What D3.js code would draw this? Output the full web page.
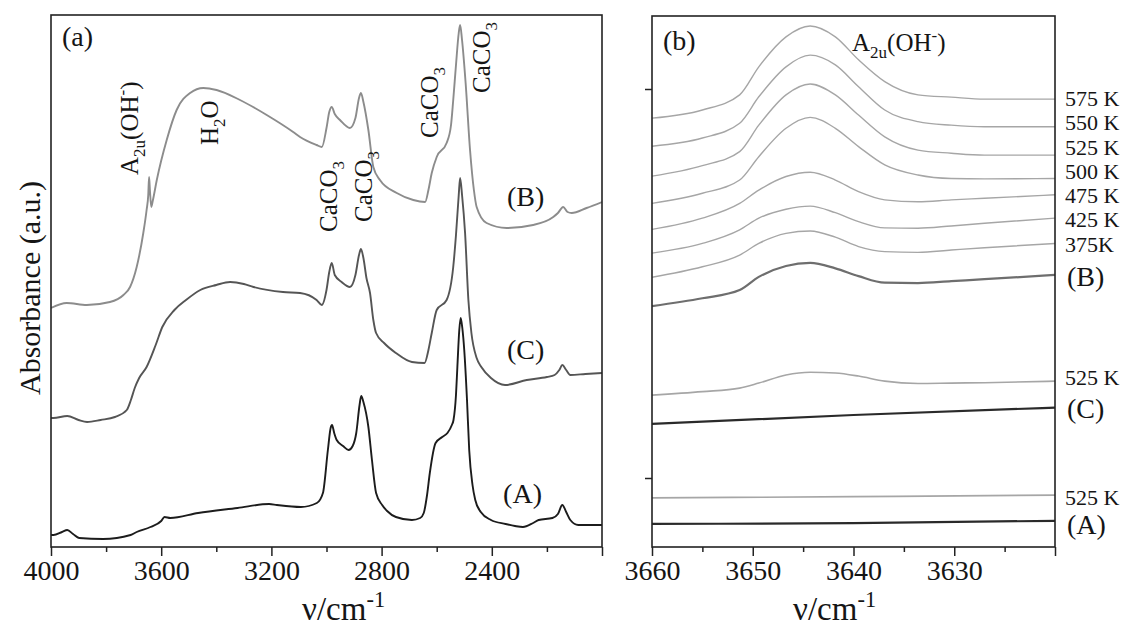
<!DOCTYPE html>
<html>
<head>
<meta charset="utf-8">
<script src="https://cdn.jsdelivr.net/npm/d3@7"></script>
<style>
  body { margin: 0; background: #fff; }
  text { font-family: "Liberation Serif", "Times New Roman", serif; fill: #151515; }
</style>
</head>
<body>
<script>
// ---- panel (a): full spectra, wavenumber (cm-1) vs absorbance (a.u.)
var waveA = [4000, 3991, 3960, 3941, 3920, 3898, 3811, 3711, 3689, 3639, 3600, 3588, 3567, 3466, 3323, 3208, 3180, 3093, 3035, 3013,
  2995, 2985, 2980, 2972, 2963, 2940, 2920, 2905, 2892, 2880, 2874, 2866, 2848, 2835, 2820, 2798, 2780, 2748, 2690, 2660, 2647,
  2635, 2625, 2604, 2580, 2561, 2545, 2539, 2530, 2525, 2518, 2513, 2507, 2500, 2490, 2482, 2470, 2460, 2440, 2403, 2350, 2316,
  2287, 2250, 2230, 2180, 2160, 2144, 2130, 2115, 2086, 2000];
var specA = [0.12, 0.12, 0.15, 0.17, 0.13, 0.09, 0.08, 0.12, 0.15, 0.20, 0.26, 0.30, 0.29, 0.34, 0.39, 0.43, 0.42, 0.40, 0.44, 0.54,
  0.97, 1.19, 1.22, 1.14, 1.07, 1.01, 0.97, 1.01, 1.14, 1.42, 1.51, 1.45, 1.20, 0.87, 0.54, 0.42, 0.36, 0.30, 0.27, 0.29, 0.34,
  0.52, 0.74, 1.04, 1.10, 1.14, 1.22, 1.27, 1.52, 1.80, 2.17, 2.29, 2.19, 1.97, 1.47, 0.97, 0.62, 0.47, 0.35, 0.27, 0.23, 0.21,
  0.20, 0.24, 0.27, 0.29, 0.33, 0.42, 0.35, 0.27, 0.22, 0.22];

var waveC = [4000, 3991, 3941, 3900, 3869, 3820, 3768, 3725, 3710, 3696, 3680, 3653, 3620, 3596, 3552, 3510, 3458, 3400, 3350, 3300,
  3265, 3158, 3096, 3036, 3017, 3000, 2990, 2981, 2970, 2945, 2915, 2895, 2882, 2875, 2866, 2855, 2842, 2830, 2820, 2791, 2748,
  2690, 2644, 2630, 2618, 2600, 2564, 2540, 2530, 2520, 2515, 2508, 2497, 2485, 2474, 2455, 2438, 2403, 2352, 2273, 2200, 2172,
  2155, 2144, 2130, 2115, 2060, 2000];
var specC = [1.29, 1.29, 1.31, 1.27, 1.25, 1.27, 1.30, 1.37, 1.47, 1.59, 1.69, 1.80, 2.02, 2.20, 2.37, 2.47, 2.57, 2.62, 2.65, 2.63,
  2.60, 2.55, 2.54, 2.47, 2.42, 2.57, 2.75, 2.84, 2.72, 2.65, 2.60, 2.72, 2.92, 2.98, 2.89, 2.69, 2.54, 2.27, 2.14, 2.04, 1.94,
  1.85, 1.84, 1.97, 2.14, 2.37, 2.47, 2.80, 3.12, 3.52, 3.69, 3.52, 3.14, 2.47, 2.14, 1.89, 1.80, 1.69, 1.62, 1.67, 1.70, 1.72,
  1.77, 1.82, 1.77, 1.72, 1.73, 1.74];

var waveB = [4000, 3943, 3870, 3786, 3737, 3713, 3689, 3665, 3653, 3647, 3644, 3641, 3636, 3630, 3616, 3580, 3544, 3495, 3447, 3399,
  3314, 3217, 3121, 3096, 3036, 3017, 3000, 2990, 2981, 2970, 2951, 2915, 2895, 2882, 2875, 2866, 2848, 2830, 2806, 2745, 2685,
  2642, 2630, 2618, 2600, 2564, 2548, 2540, 2530, 2520, 2515, 2508, 2495, 2479, 2465, 2455, 2419, 2346, 2250, 2177, 2160, 2141,
  2125, 2110, 2056, 2000];
var specB = [2.39, 2.44, 2.42, 2.45, 2.52, 2.60, 2.80, 3.14, 3.37, 3.52, 3.70, 3.57, 3.40, 3.47, 3.67, 4.07, 4.37, 4.54, 4.59, 4.57,
  4.47, 4.32, 4.15, 4.10, 4.02, 4.00, 4.19, 4.35, 4.40, 4.33, 4.27, 4.19, 4.29, 4.49, 4.54, 4.45, 4.17, 3.80, 3.67, 3.54, 3.47,
  3.45, 3.57, 3.74, 3.90, 4.04, 4.22, 4.47, 4.82, 5.14, 5.22, 5.07, 4.64, 3.97, 3.57, 3.40, 3.24, 3.19, 3.22, 3.30, 3.34, 3.40,
  3.35, 3.34, 3.39, 3.45];

var majorTicksA = [4000, 3600, 3200, 2800, 2400, 2000];
var minorTicksA = [3800, 3400, 3000, 2600, 2200];

// ---- panel (b): A2u(OH-) region, stacked spectra
var waveHT = [3660, 3655, 3651.3, 3649.4, 3646.7, 3644.3, 3641.8, 3639.5, 3636.9, 3633.6, 3630.3, 3627.0, 3620];
var t575 = [92.5, 94.6, 98.5, 105.7, 113.4, 116.2, 113.4, 107.5, 101.9, 98.5, 97.9, 97.4, 97.4];
var t550 = [85.3, 87.4, 91.2, 98.0, 105.7, 108.7, 106.2, 100.6, 94.6, 91.6, 90.7, 90.3, 90.3];
var t525 = [77.6, 80.3, 83.9, 90.7, 98.5, 101.3, 98.5, 93.3, 87.7, 84.3, 83.5, 83.0, 83.0];
var t500 = [70.6, 73.2, 76.6, 82.6, 89.9, 92.7, 89.9, 85.2, 80.5, 77.9, 77.0, 76.9, 77.0];
var t475 = [63.9, 66.8, 70.6, 74.0, 77.5, 78.6, 76.6, 73.6, 71.5, 71.0, 71.5, 71.9, 72.8];
var t425 = [57.8, 60.3, 63.8, 66.8, 69.1, 69.9, 68.2, 65.9, 64.3, 64.2, 64.8, 65.5, 66.8];
var t375 = [51.6, 54.3, 57.3, 60.3, 62.9, 63.5, 61.9, 59.5, 58.2, 58.0, 58.6, 59.2, 60.3];
var roomB = [44.2, 46.2, 48.3, 51.7, 54.5, 55.3, 53.9, 51.9, 50.2, 50.1, 50.6, 51.1, 52.2];
var c525 = [21.3, 22.2, 23.1, 24.4, 26.5, 27.2, 27.0, 26.2, 24.9, 24.3, 24.4, 24.5, 24.9];
var waveFlat = [3660, 3640, 3620];
var roomC = [13.9, 16.2, 18.1];
var a525 = [-5.1, -4.8, -4.4];
var roomA = [-11.8, -11.6, -11.0];

var majorTicksB = [3660, 3650, 3640, 3630, 3620];
var minorTicksB = [3655, 3645, 3635, 3625];
var yTicksB = [0, 100];

var svg = d3.select("body").append("svg")
  .attr("width", 1131)
  .attr("height", 628);

var serif = '"Liberation Serif", "Times New Roman", serif';

// text with sub / superscript pieces
function rich(t, parts, size) {
  var shift = 0;
  parts.forEach(function(p) {
    var target = p[1] === "sub" ? size * 0.28 : p[1] === "sup" ? -size * 0.4 : 0;
    t.append("tspan")
      .attr("dy", target - shift)
      .attr("font-size", p[1] === "n" ? size : size * 0.68)
      .text(p[0]);
    shift = target;
  });
  return t;
}

function frameAndAxis(x, major, minor, clipId) {
  var x0 = x.range()[0], x1 = x.range()[1];

  svg.append("clipPath").attr("id", clipId)
    .append("rect").attr("x", x0).attr("y", 15).attr("width", x1 - x0).attr("height", 547 - 15);

  var minorAxis = svg.append("g")
    .attr("transform", "translate(0,547)")
    .attr("color", "#222")
    .call(d3.axisBottom(x).tickValues(minor).tickSize(5).tickFormat(""));
  minorAxis.select(".domain").remove();
  minorAxis.selectAll("line").attr("stroke-width", 1.5);

  var last = major[major.length - 1];
  var majorAxis = svg.append("g")
    .attr("transform", "translate(0,547)")
    .attr("color", "#222")
    .call(d3.axisBottom(x).tickValues(major).tickSize(9).tickPadding(4)
      .tickFormat(function(d) { return d === last ? "" : d; }));
  majorAxis.select(".domain").remove();
  majorAxis.selectAll("line").attr("stroke-width", 1.5);
  majorAxis.selectAll("text")
    .attr("font-family", serif)
    .attr("font-size", 28)
    .style("fill", "#151515");
}

// ================= panel (a)
var xA = d3.scaleLinear().domain([4000, 2000]).range([51, 602]);
var yA = d3.scaleLinear().domain([0, 1]).range([547, 447]);

frameAndAxis(xA, majorTicksA, minorTicksA, "clipA");

var lineA = function(wave) {
  return d3.line()
    .x(function(d, i) { return xA(wave[i]); })
    .y(function(d) { return yA(d); })
    .curve(d3.curveMonotoneX);
};

var gA = svg.append("g").attr("clip-path", "url(#clipA)");
[[waveB, specB, "#8c8c8c"], [waveC, specC, "#555"], [waveA, specA, "#1c1c1c"]].forEach(function(s) {
  gA.append("path")
    .datum(s[1])
    .attr("d", lineA(s[0]))
    .attr("fill", "none")
    .attr("stroke", s[2])
    .attr("stroke-width", 1.9)
    .attr("stroke-linejoin", "round");
});

svg.append("rect")
  .attr("x", 51).attr("y", 15).attr("width", 551).attr("height", 532)
  .attr("fill", "none").attr("stroke", "#222").attr("stroke-width", 1.6);

svg.append("text").attr("x", xA(3960)).attr("y", yA(5.015)).attr("font-size", 28).text("(a)");

// vertical band labels
var bandLabels = [
  { wn: 3684, a: 3.72, parts: [["A", "n"], ["2u", "sub"], ["(OH", "n"], ["-", "sup"], [")", "n"]] },
  { wn: 3394, a: 4.02, parts: [["H", "n"], ["2", "sub"], ["O", "n"]] },
  { wn: 2962, a: 3.15, parts: [["CaCO", "n"], ["3", "sub"]] },
  { wn: 2836, a: 3.25, parts: [["CaCO", "n"], ["3", "sub"]] },
  { wn: 2595, a: 4.09, parts: [["CaCO", "n"], ["3", "sub"]] },
  { wn: 2406, a: 4.54, parts: [["CaCO", "n"], ["3", "sub"]] }
];
bandLabels.forEach(function(b) {
  var t = svg.append("text")
    .attr("transform", "translate(" + xA(b.wn) + "," + yA(b.a) + ") rotate(-90)");
  rich(t, b.parts, 25);
});

[["(B)", 2345, 3.41], ["(C)", 2345, 1.88], ["(A)", 2359, 0.44]].forEach(function(l) {
  svg.append("text").attr("x", xA(l[1])).attr("y", yA(l[2])).attr("font-size", 28).text(l[0]);
});

svg.append("text")
  .attr("transform", "translate(40,288) rotate(-90)")
  .attr("text-anchor", "middle")
  .attr("font-size", 30)
  .text("Absorbance (a.u.)");

rich(svg.append("text").attr("x", 302).attr("y", 620), [["\u03bd/cm", "n"], ["-1", "sup"]], 33);

// ================= panel (b)
var xB = d3.scaleLinear().domain([3660, 3620]).range([652, 1055]);
var yB = d3.scaleLinear().domain([0, 100]).range([478, 89]);

frameAndAxis(xB, majorTicksB, minorTicksB, "clipB");

var yAxisB = svg.append("g")
  .attr("transform", "translate(652,0)")
  .attr("color", "#222")
  .call(d3.axisLeft(yB).tickValues(yTicksB).tickSize(7).tickFormat(""));
yAxisB.select(".domain").remove();
yAxisB.selectAll("line").attr("stroke-width", 1.5);

var lineB = function(wave) {
  return d3.line()
    .x(function(d, i) { return xB(wave[i]); })
    .y(function(d) { return yB(d); })
    .curve(d3.curveMonotoneX);
};

var seriesB = [
  [waveHT, t575, "#a6a6a6", 1.4], [waveHT, t550, "#a6a6a6", 1.4], [waveHT, t525, "#a6a6a6", 1.4],
  [waveHT, t500, "#a6a6a6", 1.4], [waveHT, t475, "#a6a6a6", 1.4], [waveHT, t425, "#a6a6a6", 1.4],
  [waveHT, t375, "#a6a6a6", 1.4], [waveHT, roomB, "#6e6e6e", 2.2],
  [waveHT, c525, "#a6a6a6", 1.6], [waveFlat, roomC, "#2a2a2a", 2.2],
  [waveFlat, a525, "#a6a6a6", 1.6], [waveFlat, roomA, "#2a2a2a", 2.2]
];
var gB = svg.append("g").attr("clip-path", "url(#clipB)");
seriesB.forEach(function(s) {
  gB.append("path")
    .datum(s[1])
    .attr("d", lineB(s[0]))
    .attr("fill", "none")
    .attr("stroke", s[2])
    .attr("stroke-width", s[3]);
});

svg.append("rect")
  .attr("x", 652).attr("y", 16).attr("width", 403).attr("height", 531)
  .attr("fill", "none").attr("stroke", "#222").attr("stroke-width", 1.6);

svg.append("text").attr("x", 663).attr("y", 50).attr("font-size", 28).text("(b)");
rich(svg.append("text").attr("x", 852).attr("y", 51),
  [["A", "n"], ["2u", "sub"], ["(OH", "n"], ["-", "sup"], [")", "n"]], 25);

var rightLabels = [
  ["575 K", 106, 22], ["550 K", 130, 22], ["525 K", 155, 22], ["500 K", 179, 22],
  ["475 K", 203, 22], ["425 K", 227, 22], ["375K", 252, 22], ["(B)", 286, 28],
  ["525 K", 385, 22], ["(C)", 418, 28], ["525 K", 505, 22], ["(A)", 534, 28]
];
rightLabels.forEach(function(l) {
  svg.append("text")
    .attr("x", l[2] > 24 ? 1067 : 1065)
    .attr("y", l[1])
    .attr("font-size", l[2])
    .text(l[0]);
});

rich(svg.append("text").attr("x", 793).attr("y", 620), [["\u03bd/cm", "n"], ["-1", "sup"]], 33);
</script>
</body>
</html>
